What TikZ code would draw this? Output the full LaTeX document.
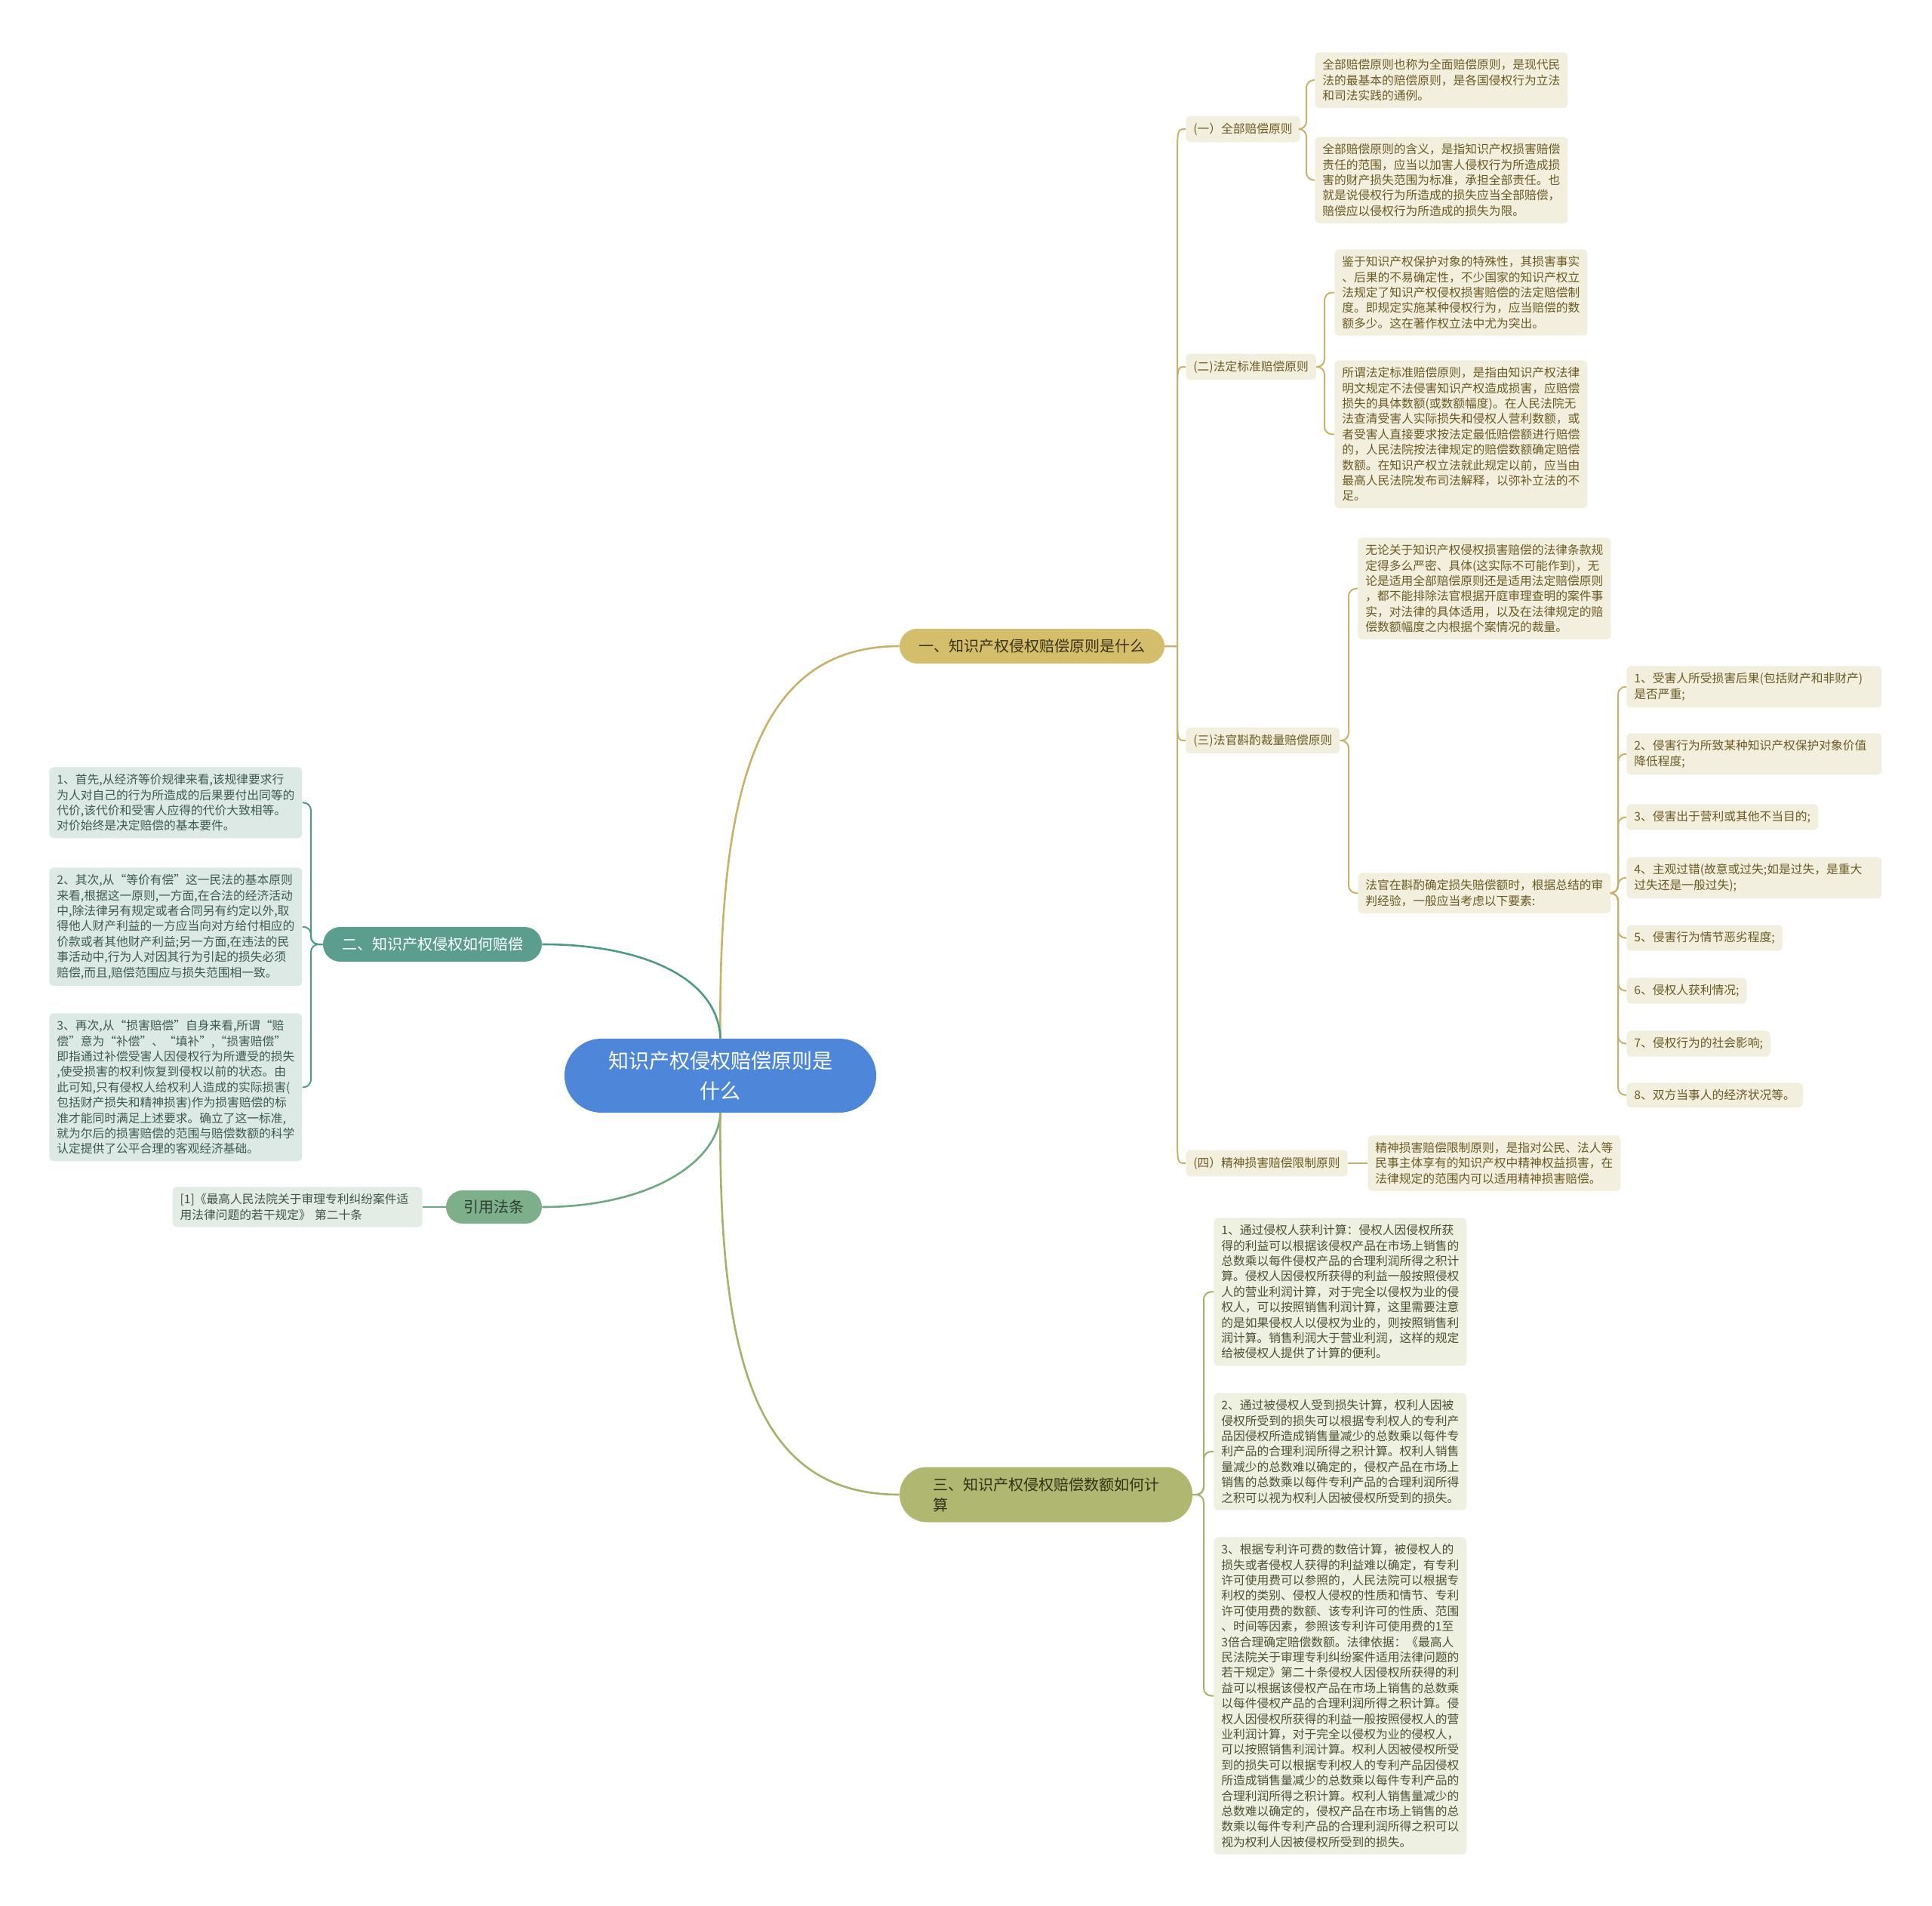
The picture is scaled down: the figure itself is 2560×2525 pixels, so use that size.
\documentclass[tikz,border=0pt]{standalone}
\usepackage{fontspec}
\setmainfont{Noto Sans CJK SC}
\usetikzlibrary{calc}
\definecolor{cblue}{HTML}{4E86DA}
\definecolor{goldline}{HTML}{C8B26A}
\definecolor{goldpill}{HTML}{D4BD6B}
\definecolor{goldpilltext}{HTML}{3B3217}
\definecolor{goldleaf}{HTML}{F3EFDF}
\definecolor{goldtext}{HTML}{6B5B23}
\definecolor{tealline}{HTML}{4E9A89}
\definecolor{tealpill}{HTML}{5B9E8D}
\definecolor{tealleaf}{HTML}{DDE9E5}
\definecolor{tealtext}{HTML}{3E5A53}
\definecolor{grnline}{HTML}{6FA983}
\definecolor{grnpill}{HTML}{7DB08A}
\definecolor{grnpilltext}{HTML}{2E3D31}
\definecolor{grnleaf}{HTML}{E3EDE6}
\definecolor{grntext}{HTML}{405446}
\definecolor{oliveline}{HTML}{A9B06B}
\definecolor{olivepill}{HTML}{B0B770}
\definecolor{olivepilltext}{HTML}{2F3218}
\definecolor{oliveleaf}{HTML}{EEF0E2}
\definecolor{olivetext}{HTML}{4C5233}
\newcommand\leaffont{\fontsize{7.875pt}{10.2pt}\selectfont}
\newcommand\pillfont{\fontsize{10pt}{13.5pt}\selectfont}
\begin{document}
\begin{tikzpicture}[x=0.5pt,y=-0.5pt,
  box/.style={rounded corners=3pt, inner xsep=5pt, inner ysep=4.5pt, align=left, font=\leaffont},
  leafA/.style={box, fill=goldleaf, text=goldtext, anchor=north west},
  wideA/.style={leafA, text width=159pt},
  subA/.style={box, fill=goldleaf, text=goldtext, anchor=west},
  leafB/.style={box, fill=tealleaf, text=tealtext, anchor=north west},
  leafC/.style={box, fill=grnleaf, text=grntext, anchor=east, text width=155.5pt},
  leafD/.style={box, fill=oliveleaf, text=olivetext, anchor=north west},
  pill/.style={inner sep=0pt, font=\pillfont},
  lineA/.style={draw=goldline, line width=1.3pt},
  brA/.style={draw=goldline, line width=1pt, rounded corners=5pt},
  lineB/.style={draw=tealline, line width=1.3pt},
  brB/.style={draw=tealline, line width=1pt, rounded corners=5pt},
  lineC/.style={draw=grnline, line width=1.3pt},
  lineD/.style={draw=oliveline, line width=1.3pt},
  brD/.style={draw=oliveline, line width=1pt, rounded corners=5pt}]
\fill[white] (0,0) rectangle (2560,2525);
\useasboundingbox (0,0) rectangle (2560,2525);

% centre and main branches
\node[pill, fill=cblue, text=white, minimum width=206.5pt, minimum height=49pt, rounded corners=24.5pt, font=\fontsize{13.5pt}{20pt}\selectfont, align=center] (C) at (954.5,1425) {知识产权侵权赔偿原则是\\什么};
\node[pill, fill=goldpill, text=goldpilltext, minimum width=175.5pt, minimum height=23pt, rounded corners=11.5pt] (B1) at (1367.5,856) {一、知识产权侵权赔偿原则是什么};
\node[pill, fill=tealpill, text=white, minimum width=145pt, minimum height=23pt, rounded corners=11.5pt] (B2) at (573,1251) {二、知识产权侵权如何赔偿};
\node[pill, fill=grnpill, text=grnpilltext, minimum width=63.5pt, minimum height=22pt, rounded corners=11pt] (R) at (654.5,1599) {引用法条};
\node[pill, fill=olivepill, text=olivepilltext, minimum width=194pt, minimum height=36.5pt, rounded corners=18pt, align=left, font=\fontsize{10pt}{13.5pt}\selectfont] (B3) at (1386,1980) {三、知识产权侵权赔偿数额如何计\\算};

% branch 1 sub nodes
\node[subA] (S1) at (1571,171) {(一）全部赔偿原则};
\node[subA] (S2) at (1571,486) {(二)法定标准赔偿原则};
\node[subA] (S3) at (1571,981) {(三)法官斟酌裁量赔偿原则};
\node[subA] (S4) at (1571,1541) {(四）精神损害赔偿限制原则};

\node[leafA] (A1) at (1742,69) {全部赔偿原则也称为全面赔偿原则，是现代民\\法的最基本的赔偿原则，是各国侵权行为立法\\和司法实践的通例。};
\node[leafA] (A2) at (1742,181) {全部赔偿原则的含义，是指知识产权损害赔偿\\责任的范围，应当以加害人侵权行为所造成损\\害的财产损失范围为标准，承担全部责任。也\\就是说侵权行为所造成的损失应当全部赔偿，\\赔偿应以侵权行为所造成的损失为限。};
\node[leafA] (A3) at (1768,330) {鉴于知识产权保护对象的特殊性，其损害事实\\、后果的不易确定性，不少国家的知识产权立\\法规定了知识产权侵权损害赔偿的法定赔偿制\\度。即规定实施某种侵权行为，应当赔偿的数\\额多少。这在著作权立法中尤为突出。};
\node[leafA] (A4) at (1768,477) {所谓法定标准赔偿原则，是指由知识产权法律\\明文规定不法侵害知识产权造成损害，应赔偿\\损失的具体数额(或数额幅度)。在人民法院无\\法查清受害人实际损失和侵权人营利数额，或\\者受害人直接要求按法定最低赔偿额进行赔偿\\的，人民法院按法律规定的赔偿数额确定赔偿\\数额。在知识产权立法就此规定以前，应当由\\最高人民法院发布司法解释，以弥补立法的不\\足。};
\node[leafA] (A5) at (1799,712) {无论关于知识产权侵权损害赔偿的法律条款规\\定得多么严密、具体(这实际不可能作到)，无\\论是适用全部赔偿原则还是适用法定赔偿原则\\，都不能排除法官根据开庭审理查明的案件事\\实，对法律的具体适用，以及在法律规定的赔\\偿数额幅度之内根据个案情况的裁量。};
\node[leafA] (A6) at (1799,1156) {法官在斟酌确定损失赔偿额时，根据总结的审\\判经验，一般应当考虑以下要素:};
\node[wideA] (E1) at (2155,882) {1、受害人所受损害后果(包括财产和非财产)\\是否严重;};
\node[wideA] (E2) at (2155,971) {2、侵害行为所致某种知识产权保护对象价值\\降低程度;};
\node[leafA] (E3) at (2155,1065) {3、侵害出于营利或其他不当目的;};
\node[wideA] (E4) at (2155,1135) {4、主观过错(故意或过失;如是过失，是重大\\过失还是一般过失);};
\node[leafA] (E5) at (2155,1225) {5、侵害行为情节恶劣程度;};
\node[leafA] (E6) at (2155,1295) {6、侵权人获利情况;};
\node[leafA] (E7) at (2155,1365) {7、侵权行为的社会影响;};
\node[leafA] (E8) at (2155,1434) {8、双方当事人的经济状况等。};
\node[box, fill=goldleaf, text=goldtext, anchor=west] (A7) at (1812,1541) {精神损害赔偿限制原则，是指对公民、法人等\\民事主体享有的知识产权中精神权益损害，在\\法律规定的范围内可以适用精神损害赔偿。};

% branch 2 leaves
\node[leafB] (L1) at (65,1016) {1、首先,从经济等价规律来看,该规律要求行\\为人对自己的行为所造成的后果要付出同等的\\代价,该代价和受害人应得的代价大致相等。\\对价始终是决定赔偿的基本要件。};
\node[leafB] (L2) at (65,1149) {2、其次,从“等价有偿”这一民法的基本原则\\来看,根据这一原则,一方面,在合法的经济活动\\中,除法律另有规定或者合同另有约定以外,取\\得他人财产利益的一方应当向对方给付相应的\\价款或者其他财产利益;另一方面,在违法的民\\事活动中,行为人对因其行为引起的损失必须\\赔偿,而且,赔偿范围应与损失范围相一致。};
\node[leafB] (L3) at (65,1342) {3、再次,从“损害赔偿”自身来看,所谓“赔\\偿”意为“补偿”、“填补”,“损害赔偿”\\即指通过补偿受害人因侵权行为所遭受的损失\\,使受损害的权利恢复到侵权以前的状态。由\\此可知,只有侵权人给权利人造成的实际损害(\\包括财产损失和精神损害)作为损害赔偿的标\\准才能同时满足上述要求。确立了这一标准,\\就为尔后的损害赔偿的范围与赔偿数额的科学\\认定提供了公平合理的客观经济基础。};

% citation leaf
\node[leafC] (K1) at (560,1599) {[1]《最高人民法院关于审理专利纠纷案件适\\用法律问题的若干规定》 第二十条};

% branch 3 leaves
\node[leafD] (T1) at (1608,1613) {1、通过侵权人获利计算：侵权人因侵权所获\\得的利益可以根据该侵权产品在市场上销售的\\总数乘以每件侵权产品的合理利润所得之积计\\算。侵权人因侵权所获得的利益一般按照侵权\\人的营业利润计算，对于完全以侵权为业的侵\\权人，可以按照销售利润计算，这里需要注意\\的是如果侵权人以侵权为业的，则按照销售利\\润计算。销售利润大于营业利润，这样的规定\\给被侵权人提供了计算的便利。};
\node[leafD] (T2) at (1608,1845) {2、通过被侵权人受到损失计算，权利人因被\\侵权所受到的损失可以根据专利权人的专利产\\品因侵权所造成销售量减少的总数乘以每件专\\利产品的合理利润所得之积计算。权利人销售\\量减少的总数难以确定的，侵权产品在市场上\\销售的总数乘以每件专利产品的合理利润所得\\之积可以视为权利人因被侵权所受到的损失。};
\node[leafD] (T3) at (1608,2036) {3、根据专利许可费的数倍计算，被侵权人的\\损失或者侵权人获得的利益难以确定，有专利\\许可使用费可以参照的，人民法院可以根据专\\利权的类别、侵权人侵权的性质和情节、专利\\许可使用费的数额、该专利许可的性质、范围\\、时间等因素，参照该专利许可使用费的1至\\3倍合理确定赔偿数额。法律依据：《最高人\\民法院关于审理专利纠纷案件适用法律问题的\\若干规定》第二十条侵权人因侵权所获得的利\\益可以根据该侵权产品在市场上销售的总数乘\\以每件侵权产品的合理利润所得之积计算。侵\\权人因侵权所获得的利益一般按照侵权人的营\\业利润计算，对于完全以侵权为业的侵权人，\\可以按照销售利润计算。权利人因被侵权所受\\到的损失可以根据专利权人的专利产品因侵权\\所造成销售量减少的总数乘以每件专利产品的\\合理利润所得之积计算。权利人销售量减少的\\总数难以确定的，侵权产品在市场上销售的总\\数乘以每件专利产品的合理利润所得之积可以\\视为权利人因被侵权所受到的损失。};

% connectors from centre
\draw[lineA] (C.north) .. controls (952,1050) and (1000,856) .. (B1.west);
\draw[lineB] (B2.east) .. controls (860,1251) and (952,1300) .. (C.north);
\draw[lineC] (R.east) .. controls (860,1599) and (952,1540) .. (C.south);
\draw[lineD] (C.south) .. controls (952,1800) and (1000,1980) .. (B3.west);

% branch 1 spine
\coordinate (sp) at (1560,0);
\foreach \s/\d in {S1/40,S2/40,S3/-40,S4/-40}
  \draw[lineA, line width=1pt] (B1.east) -- (B1.east -| sp) -- ($(\s.west -| sp)+(0,\d)$) .. controls (\s.west -| sp) .. (\s.west);

% brackets
\coordinate (b1) at (1731,0);
\foreach \c in {A1,A2} \draw[brA] (S1.east) -- (S1.east -| b1) |- (\c.west);
\coordinate (b2) at (1755,0);
\foreach \c in {A3,A4} \draw[brA] (S2.east) -- (S2.east -| b2) |- (\c.west);
\coordinate (b3) at (1787,0);
\foreach \c in {A5,A6} \draw[brA] (S3.east) -- (S3.east -| b3) |- (\c.west);
\coordinate (b4) at (2144,0);
\foreach \c in {E1,E2,E3,E4,E5,E6,E7,E8} \draw[brA] (A6.east) -- (A6.east -| b4) |- (\c.west);
\draw[brA] (S4.east) -- (A7.west);

\coordinate (bl) at (412,0);
\foreach \c in {L1,L2,L3} \draw[brB] (B2.west) -- (B2.west -| bl) |- (\c.east);
\draw[lineC, line width=1pt] (K1.east) -- (R.west);

\coordinate (bt) at (1595,0);
\foreach \c in {T1,T2,T3} \draw[brD] (B3.east) -- (B3.east -| bt) |- (\c.west);
\end{tikzpicture}
\end{document}
